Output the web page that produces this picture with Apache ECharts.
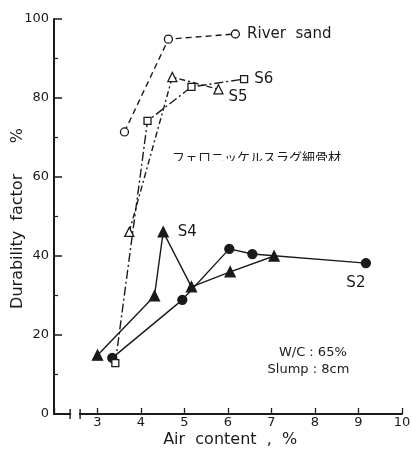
<!DOCTYPE html>
<html><head><meta charset="utf-8">
<script src="https://cdn.jsdelivr.net/npm/echarts@6/dist/echarts.min.js"></script>
<style>html,body{margin:0;padding:0;background:#fff}#c{width:412px;height:449px}</style>
</head><body><div id="c"></div>
<script>
const riverX = [3.62, 4.63, 6.17];
const riverY = [71.4, 94.9, 96.2];
const s6X = [3.41, 4.15, 5.16, 6.37];
const s6Y = [12.9, 74.2, 82.8, 84.8];
const s5X = [3.73, 4.72, 5.78];
const s5Y = [46.1, 85.3, 82.2];
const s4X = [3.0, 4.31, 4.51, 5.16, 6.05, 7.06];
const s4Y = [14.9, 29.9, 46.1, 32.2, 36.0, 40.0];
const s2X = [3.34, 4.95, 6.03, 6.56, 9.17];
const s2Y = [14.2, 28.9, 41.8, 40.5, 38.2];
const xTicks = [3, 4, 5, 6, 7, 8, 9, 10];
const yTicks = [0, 20, 40, 60, 80, 100];

const FONT = '"DejaVu Sans", Arial, sans-serif';
const INK = '#1a1a1a';
function pts(xs, ys){ return xs.map((x,i)=>[x, ys[i]]); }
function withLabel(data, idx, text, pos, offset){
  const d = data.slice();
  d[idx] = {value: data[idx], label: {show: true, formatter: text, position: pos, offset: offset || [0,0],
    color: INK, fontFamily: FONT, fontSize: 15}};
  return d;
}
const base = (name, data, symbol, size, filled, dash) => ({
  name, type: 'line', data, symbol, symbolSize: size,
  lineStyle: {color: INK, width: 1.4, type: dash},
  itemStyle: {color: filled ? INK : '#fff', borderColor: INK, borderWidth: 1.3},
  emphasis: {disabled: true}, animation: false, z: filled ? 3 : 4
});

const chart = echarts.init(document.getElementById('c'), null, {renderer: 'canvas'});
chart.setOption({
  animation: false,
  grid: {left: 54, top: 19, width: 348, height: 395, containLabel: false, outerBoundsMode: 'none'},
  xAxis: {
    type: 'value', min: 2, max: 10, interval: 1,
    axisLine: {lineStyle: {color: INK, width: 1.8}},
    axisTick: {inside: true, length: 6, lineStyle: {color: INK, width: 1.3}},
    axisLabel: {fontFamily: FONT, fontSize: 13, color: INK, margin: 2,
      formatter: v => xTicks.includes(v) ? String(v) : ''},
    splitLine: {show: false}
  },
  yAxis: {
    type: 'value', min: 0, max: 100, interval: 20,
    axisLine: {lineStyle: {color: INK, width: 2}},
    axisTick: {inside: true, length: 8, lineStyle: {color: INK, width: 1.5}},
    minorTick: {show: true, splitNumber: 2, length: 4, lineStyle: {color: INK, width: 1.2}},
    axisLabel: {fontFamily: FONT, fontSize: 13, color: INK, margin: 5,
      formatter: v => yTicks.includes(v) ? String(v) : ''},
    splitLine: {show: false}
  },
  series: [
    base('River sand', withLabel(pts(riverX, riverY), 2, 'River  sand', 'right', [2,0]), 'circle', 8, false, [6,4]),
    base('S6', withLabel(pts(s6X, s6Y), 3, 'S6', 'right', [1,0]), 'rect', 7, false, [9,3,2,3]),
    base('S5', withLabel(pts(s5X, s5Y), 2, 'S5', 'right', [0,8]), 'triangle', 9, false, [6,3,2,3]),
    base('S4', withLabel(pts(s4X, s4Y), 2, 'S4', 'right', [4,0]), 'triangle', 10, true, 'solid'),
    base('S2', withLabel(pts(s2X, s2Y), 4, 'S2', 'bottom', [-10,2]), 'circle', 9, true, 'solid')
  ]
});

function addDecor(){
  const p = (x, y) => chart.convertToPixel({gridIndex: 0}, [x, y]);
  const a = p(2.37, 0), b = p(2.6, 0);
  const yAx = a[1];
  const ann = p(7.95, 15.5), ann2 = p(7.85, 11.3);
  const xMid = p(6.05, 0), yMid = p(2, 49.5);
  chart.setOption({graphic: [
    {type: 'rect', shape: {x: a[0] + 1, y: yAx - 3, width: b[0] - a[0] - 2, height: 6}, style: {fill: '#fff'}, z: 100},
    {type: 'line', shape: {x1: a[0], y1: yAx - 5, x2: a[0], y2: yAx + 5}, style: {stroke: INK, lineWidth: 1.4}, z: 101},
    {type: 'line', shape: {x1: b[0], y1: yAx - 5, x2: b[0], y2: yAx + 5}, style: {stroke: INK, lineWidth: 1.4}, z: 101},
    {type: 'text', x: xMid[0], y: 440, style: {text: 'Air  content  ,  %', fill: INK, font: '16px ' + FONT, align: 'center', verticalAlign: 'middle'}, z: 50},
    {type: 'text', x: 18, y: yMid[1], rotation: Math.PI / 2, style: {text: 'Durability  factor      %', fill: INK, font: '16px ' + FONT, align: 'center', verticalAlign: 'middle'}, z: 50},
    {type: 'text', x: ann[0], y: ann[1], style: {text: 'W/C : 65%', fill: INK, font: '13px ' + FONT, align: 'center', verticalAlign: 'middle'}, z: 50},
    {type: 'text', x: ann2[0], y: ann2[1], style: {text: 'Slump : 8cm', fill: INK, font: '13px ' + FONT, align: 'center', verticalAlign: 'middle'}, z: 50},
    {type: 'text', x: 172, y: 151, style: {text: 'フェロニッケルスラグ細骨材', fill: INK, font: '13px "Noto Sans CJK JP"', align: 'left', verticalAlign: 'top'}, z: 50},
    {type: 'rect', shape: {x: 168, y: 161, width: 185, height: 12}, style: {fill: '#fff'}, z: 51}
  ]});
}
addDecor();
</script></body></html>
